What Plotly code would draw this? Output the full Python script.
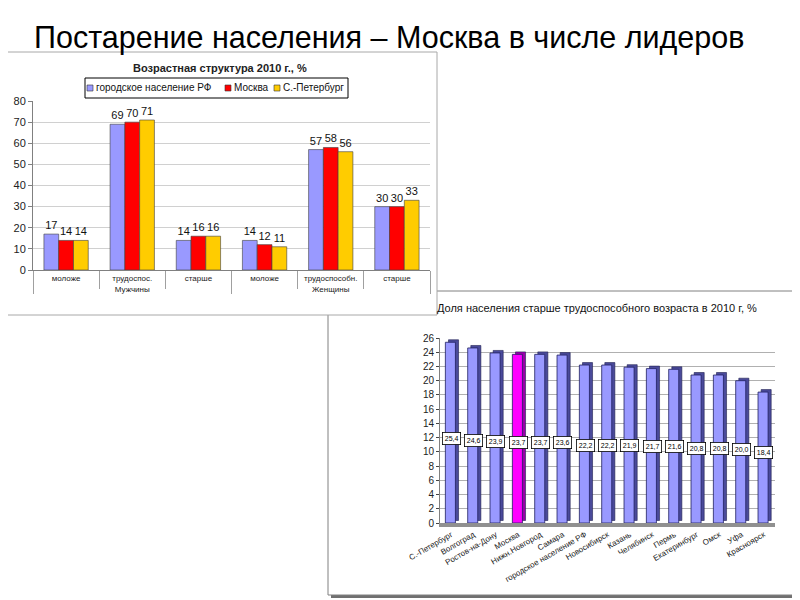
import plotly.graph_objects as go

# chart 1: age structure 2010, %
groups = ["Мужчины"] * 3 + ["Женщины"] * 3
# zero-width space keeps women's sub-labels distinct so plotly keeps the order
ages = ["моложе", "трудоспос.", "старше", "моложе\u200b", "трудоспособн.", "старше\u200b"]
series_names = ["городское население РФ", "Москва", "С.-Петербург"]
urban_rf = [17, 69, 14, 14, 57, 30]
moscow = [14, 70, 16, 12, 58, 30]
spb = [14, 71, 16, 11, 56, 33]
series_colors = ["#9999FF", "#FF0000", "#FFCC00"]

# chart 2: share of population older than working age, 2010, %
cities = ["С.-Петербург", "Волгоград", "Ростов-на-Дону", "Москва", "Нижн.Новгород",
          "Самара", "городское население РФ", "Новосибирск", "Казань", "Челябинск",
          "Пермь", "Екатеринбург", "Омск", "Уфа", "Красноярск"]
elderly_share = [25.4, 24.6, 23.9, 23.7, 23.7, 23.6, 22.2, 22.2, 21.9, 21.7,
                 21.6, 20.8, 20.8, 20.0, 18.4]
highlight = "Москва"

FONT = "Liberation Sans, Arial, sans-serif"
W, H, OFF = 800, 600, 8  # page puts the plot 8px in from the corner


def px(x):
    return (x - OFF) / W


def py(y):
    return 1 - (y - OFF) / H


fig = go.Figure()

xcat = [groups, ages]
for name, vals, col in zip(series_names, [urban_rf, moscow, spb], series_colors):
    fig.add_trace(go.Bar(
        x=xcat, y=vals, name=name, marker=dict(color=col, line=dict(color="#404040", width=0.6)),
        text=vals, textposition="outside", cliponaxis=False,
        textfont=dict(size=11, color="#111", family=FONT),
        xaxis="x", yaxis="y",
    ))

front = ["#FF00FF" if c == highlight else "#9999FF" for c in cities]
side = ["#9900AA" if c == highlight else "#4A4A9A" for c in cities]

# darker copy behind gives the 3d depth
fig.add_trace(go.Bar(
    x=cities, y=elderly_share, base=0.35, width=0.45, offset=-0.12,
    marker=dict(color=side, line=dict(color="#202050", width=0.6)),
    showlegend=False, xaxis="x2", yaxis="y2", hoverinfo="skip",
))
fig.add_trace(go.Bar(
    x=cities, y=elderly_share, width=0.45, offset=-0.26,
    marker=dict(color=front, line=dict(color="#202060", width=0.8)),
    showlegend=False, xaxis="x2", yaxis="y2",
))

# value boxes, roughly mid-bar like the original
for c, v in zip(cities, elderly_share):
    fig.add_annotation(x=c, y=0.28 * v + 4.7, xref="x2", yref="y2",
                       text=f"{v:.1f}".replace(".", ","), showarrow=False,
                       font=dict(size=7, color="#000", family=FONT),
                       bgcolor="white", bordercolor="#000", borderwidth=0.8, borderpad=2)

shapes = [
    # chart 2 frame (behind), with shadow
    dict(type="rect", xref="paper", yref="paper", x0=px(331), x1=px(799),
         y0=py(598), y1=py(294), fillcolor="#707070", line=dict(width=0), layer="below"),
    dict(type="rect", xref="paper", yref="paper", x0=px(328), x1=px(796),
         y0=py(595), y1=py(291), fillcolor="white", line=dict(color="#808080", width=1),
         layer="below"),
    # chart 1 frame on top
    dict(type="rect", xref="paper", yref="paper", x0=px(5), x1=px(437),
         y0=py(315), y1=py(52), fillcolor="white", line=dict(color="#A8A8A8", width=1),
         layer="below"),
    # legend box of chart 1
    dict(type="rect", xref="paper", yref="paper", x0=px(85), x1=px(348),
         y0=py(98), y1=py(78), fillcolor="white", line=dict(color="#000", width=1),
         layer="below"),
]

# hand-made compact legend (plotly's own one is much wider)
legend_x = [87, 225, 274]
for name, col, lx in zip(series_names, series_colors, legend_x):
    shapes.append(dict(type="rect", xref="paper", yref="paper", x0=px(lx), x1=px(lx + 6),
                       y0=py(91), y1=py(85), fillcolor=col, line=dict(color="#333", width=0.6)))
    fig.add_annotation(x=px(lx + 7), y=py(88), xref="paper", yref="paper", showarrow=False,
                       xanchor="left", yanchor="middle", text=name,
                       font=dict(size=10, color="#111", family=FONT))

fig.add_annotation(x=px(389), y=py(37), xref="paper", yref="paper", showarrow=False,
                   xanchor="center", yanchor="middle",
                   text="Постарение населения – Москва в числе лидеров",
                   font=dict(size=30.5, color="#000", family="Liberation Sans Narrow, Arial Narrow, Liberation Sans, sans-serif"))
fig.add_annotation(x=px(220), y=py(68), xref="paper", yref="paper", showarrow=False,
                   xanchor="center", yanchor="middle",
                   text="<b>Возрастная структура 2010 г., %</b>",
                   font=dict(size=11, color="#222", family=FONT))
fig.add_annotation(x=px(597), y=py(308), xref="paper", yref="paper", showarrow=False,
                   xanchor="center", yanchor="middle",
                   text="Доля населения старше трудоспособного возраста в 2010 г, %",
                   font=dict(size=11, color="#111", family=FONT))

fig.update_layout(
    width=W, height=H, margin=dict(l=0, r=0, t=0, b=0, autoexpand=False),
    paper_bgcolor="white", plot_bgcolor="rgba(0,0,0,0)",
    font=dict(family=FONT, color="#222"),
    barmode="group", bargap=0.33, bargroupgap=0,
    shapes=shapes,
    showlegend=False,
    xaxis=dict(domain=[px(33), px(430)], anchor="y", type="multicategory", automargin=False,
               showline=True, linecolor="#808080", linewidth=1,
               ticks="outside", tickcolor="#A0A0A0", ticklen=18,
               dividercolor="#A0A0A0", dividerwidth=1,
               tickfont=dict(size=8, color="#222")),
    yaxis=dict(domain=[py(270), py(101)], anchor="x", range=[0, 80], dtick=10,
               automargin=False,
               showgrid=True, gridcolor="#D0D0D0", showline=True, linecolor="#808080",
               ticks="outside", ticklen=4, tickcolor="#808080", zeroline=False,
               tickfont=dict(size=11, color="#222")),
    xaxis2=dict(domain=[px(440), px(775)], anchor="y2", automargin=False,
                showline=True, linecolor="#909090", linewidth=4,
                tickangle=-30, tickfont=dict(size=8, color="#222"), showgrid=False),
    yaxis2=dict(domain=[py(523), py(338)], anchor="x2", range=[0, 26], dtick=2,
                automargin=False,
                showgrid=True, gridcolor="#B0B0B0", showline=True, linecolor="#808080",
                ticks="outside", ticklen=3, zeroline=False,
                tickfont=dict(size=10, color="#222")),
)

fig.write_html("out.html")
